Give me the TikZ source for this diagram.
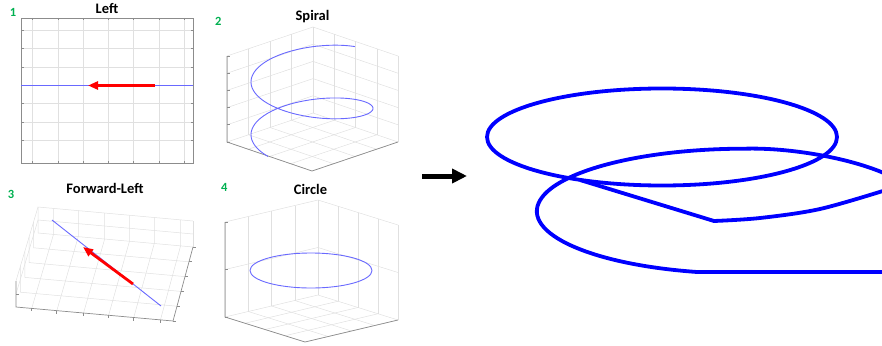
\documentclass[tikz,border=0pt]{standalone}
\usepackage{fontspec}
\setmainfont{Carlito}
\usetikzlibrary{arrows.meta,calc}
\definecolor{plotblue}{RGB}{105,105,255}
\definecolor{numgreen}{RGB}{0,176,80}
\definecolor{trajblue}{RGB}{0,0,255}

\begin{document}
\begin{tikzpicture}[x=1pt,y=-1pt,>=Stealth,gridline/.style={black!12,line width=0.5pt},axisline/.style={black!45,line width=0.7pt},plotline/.style={plotblue,line width=0.9pt},dirarrow/.style={-{Triangle[length=10pt,width=8pt]},red,line width=2.8pt},traj/.style={trajblue,line width=3.8pt,line join=round},bigarrow/.style={-{Triangle[length=15pt,width=14pt]},line width=5pt},ttl/.style={font=\fontsize{14.5}{16}\selectfont\bfseries,anchor=base},num/.style={font=\fontsize{12.5}{14}\selectfont\bfseries,text=numgreen,anchor=base}]
\useasboundingbox (0,0) rectangle (882,345);
\node[ttl] (tleft) at (107,13.3) {Left}; \node[num] (nleft) at (13,16.7) {1};
\node[ttl] (tspiral) at (312.5,21) {Spiral}; \node[num] (nspiral) at (218.3,25.7) {2};
\node[ttl] (tfwd) at (105,193.3) {Forward-Left}; \node[num] (nfwd) at (11,198.3) {3};
\node[ttl] (tcircle) at (310.5,194) {Circle}; \node[num] (ncircle) at (224.3,191) {4};
\foreach \gx in {32,58,83,108,133,159,184} {\draw[gridline] (\gx,18) -- (\gx,163); \draw[axisline] (\gx,163) -- ++(0,-2.5); \draw[axisline] (\gx,18) -- ++(0,2.5);}
\foreach \gy in {30,48,67,85.5,103,122,140} {\draw[gridline] (21,\gy) -- (193,\gy); \draw[axisline] (21,\gy) -- ++(2.5,0); \draw[axisline] (193,\gy) -- ++(-2.5,0);}
\draw[axisline] (21,18) rectangle (193,163);
\draw[plotline] (21,85.5) -- (193,85.5); \draw[dirarrow] (155,85.5) -- (88,85.5);
\foreach \p/\lx/\ly/\fx/\fy/\rx/\ry/\h/\n in {a/227/142/312/171/398/142/86/5,b/225/317/305/342/398/320/95/2} {
  \coordinate (\p L) at (\lx,\ly); \coordinate (\p F) at (\fx,\fy); \coordinate (\p R) at (\rx,\ry); \coordinate (\p B) at ($(\p L)+(\p R)-(\p F)$);
  \foreach \i in {0,...,4} {\draw[gridline] ($(\p B)!\i/4!(\p L)$) -- ($(\p R)!\i/4!(\p F)$); \draw[gridline] ($(\p B)!\i/4!(\p R)$) -- ($(\p L)!\i/4!(\p F)$);
    \draw[gridline] ($(\p L)!\i/4!(\p B)$) -- ++(0,-\h); \draw[gridline] ($(\p B)!\i/4!(\p R)$) -- ++(0,-\h);}
  \foreach \j in {1,...,\n} {\draw[gridline] ($(\p L)+(0,-\h*\j/\n)$) -- ($(\p B)+(0,-\h*\j/\n)$) -- ($(\p R)+(0,-\h*\j/\n)$);}
  \draw[axisline] ($(\p L)+(0,-\h)$) -- (\p L) -- (\p F) -- (\p R);
  \foreach \j in {0,...,\n} {\draw[axisline] ($(\p L)+(0,-\h*\j/\n)$) -- ++(2.5,0);}
}
\draw[plotline] plot[domain=0.79:10.19,samples=160,variable=\t] ({312+61*cos(\t r)},{55.6+8.4*\t-22*sin(\t r)});
\draw[plotline] (311,270.5) ellipse [x radius=61,y radius=17.5];
\coordinate (FL) at (16,307); \coordinate (FR) at (173,321); \coordinate (BR) at (193,247); \coordinate (BL) at (38,233);
\foreach \u in {0.1,0.26,0.43,0.59,0.75,0.92} {\draw[gridline] ($(FL)!\u!(FR)$) -- ($(BL)!\u!(BR)$) -- ++(0,-26); \draw[axisline] ($(FL)!\u!(FR)$) -- ++(0,3);}
\foreach \v in {0,0.2,0.4,0.6,0.8} {\draw[gridline] ($(BL)!\v!(FL)$) ++(0,-26) -- ($(BL)!\v!(FL)$) -- ($(BR)!\v!(FR)$); \draw[axisline] ($(BR)!\v!(FR)$) -- ++(3,0);}
\draw[gridline] (BR) -- ++(0,-26); \draw[gridline] ($(FL)+(0,-13)$) -- ($(BL)+(0,-13)$) -- ($(BR)+(0,-13)$); \draw[gridline] ($(FL)+(0,-26)$) -- ($(BL)+(0,-26)$) -- ($(BR)+(0,-26)$);
\draw[axisline] ($(FL)+(0,-26)$) -- (FL) -- (FR) -- (BR); \draw[axisline] (FL) ++(0,-13) -- ++(2.5,0); \draw[axisline] (FR) -- ++(3,0);
\draw[plotline] (52,220) -- (161,306); \draw[dirarrow] (133,284) -- (83,247);
\coordinate (arrs) at (422,176); \coordinate (arre) at (467,176);
\draw[bigarrow] (arrs) -- (arre);
\draw[traj] (662,137) ellipse [x radius=175,y radius=48.5];
\draw[traj] (886,272) -- (697,272) arc[start angle=103.3,end angle=270,x radius=208,y radius=62.5] .. controls (790,147.5) and (850,158) .. (886,174);
\draw[traj] (580,180) -- plot[smooth,tension=0.55] coordinates {(714,221) (760,218) (820,209) (886,190)};
\end{tikzpicture}
\end{document}
